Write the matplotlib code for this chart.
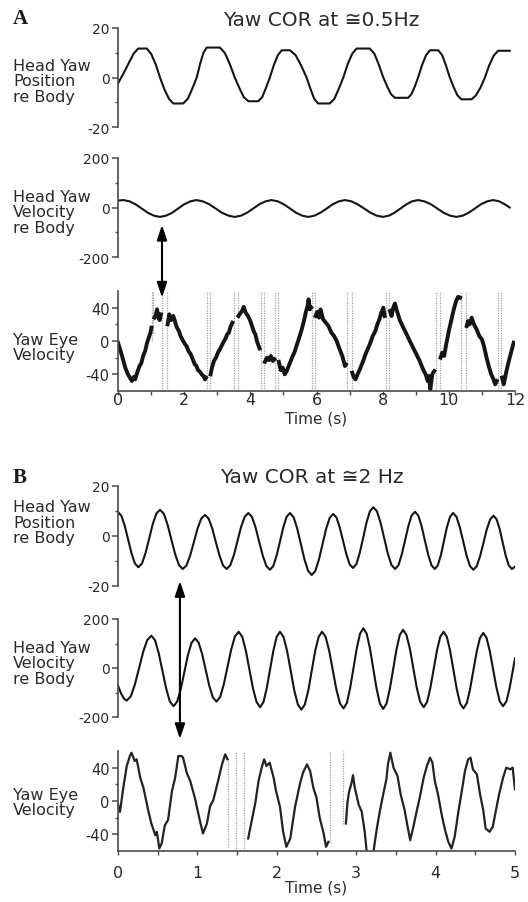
import numpy as np
import matplotlib
matplotlib.use('Agg')
import matplotlib.pyplot as plt
from matplotlib.patches import ConnectionPatch

plt.rcParams['font.family'] = ['DejaVu Sans']
plt.rcParams['axes.unicode_minus'] = False

# ---- panel A (0.5 Hz) ----
a_pos_t = [0.00, 0.20, 0.35, 0.48, 0.61, 0.87, 1.00, 1.14, 1.27, 1.40, 1.54, 1.67,
           1.97, 2.11, 2.24, 2.38, 2.48, 2.58, 2.68, 3.08, 3.23, 3.38, 3.53, 3.67, 3.80, 3.94,
           4.24, 4.36, 4.47, 4.59, 4.71, 4.83, 4.95, 5.20, 5.37, 5.53, 5.70, 5.82, 5.93, 6.05,
           6.40, 6.54, 6.67, 6.81, 6.94, 7.08, 7.21, 7.61, 7.75, 7.88, 8.02, 8.14, 8.25, 8.37,
           8.77, 8.87, 8.97, 9.07, 9.19, 9.31, 9.43, 9.68, 9.80, 9.91, 10.03, 10.15, 10.26, 10.38,
           10.69, 10.82, 10.96, 11.09, 11.22, 11.36, 11.49, 11.84]
a_pos_v = [-2.4, 2.5, 6.5, 9.8, 11.7, 11.7, 9.6, 5.3, 0, -4.7, -8.6, -10.5,
           -10.5, -8.6, -4.7, 0, 5.4, 9.9, 12.1, 12.1, 9.9, 5.4, 0, -4.3, -7.9, -9.6,
           -9.6, -7.9, -4.3, 0, 5.0, 9.0, 11.0, 11.0, 9.0, 5.0, 0, -4.7, -8.6, -10.5,
           -10.5, -8.6, -4.7, 0, 5.3, 9.6, 11.7, 11.7, 9.6, 5.3, 0, -3.7, -6.7, -8.2,
           -8.2, -6.7, -3.7, 0, 5.0, 9.0, 11.0, 11.0, 9.0, 5.0, 0, -4.0, -7.2, -8.8,
           -8.8, -7.2, -4.0, 0, 4.9, 8.9, 10.8, 10.8]

a_vel_t = [0.00, 0.16, 0.345, 0.53, 0.715, 0.90, 1.085, 1.27, 1.45, 1.64, 1.82, 2.00, 2.19, 2.37,
           2.56, 2.76, 2.95, 3.14, 3.34, 3.53, 3.72, 3.90, 4.09, 4.27, 4.46, 4.64,
           4.83, 5.01, 5.20, 5.38, 5.57, 5.75, 5.94, 6.12, 6.31, 6.49, 6.68, 6.86,
           7.05, 7.24, 7.44, 7.63, 7.82, 8.01, 8.19, 8.36, 8.54, 8.72, 8.89, 9.07,
           9.26, 9.46, 9.65, 9.84, 10.04, 10.23, 10.42, 10.60, 10.79, 10.97, 11.16, 11.34,
           11.52, 11.69, 11.84]
a_vel_v = [28, 30, 25, 13, -4, -21, -33, -38, -33, -21, -4, 13, 25, 30,
           25, 13, -4, -21, -33, -38, -33, -21, -4, 13, 25, 30,
           25, 13, -4, -21, -33, -38, -33, -21, -4, 13, 25, 30,
           25, 13, -4, -21, -33, -38, -33, -21, -4, 13, 25, 30,
           25, 13, -4, -21, -33, -38, -33, -21, -4, 13, 25, 30,
           25, 13, 0]

# eye velocity, None = saccade gap
a_eye_t = [0.00, 0.08, 0.15, 0.22, 0.30, 0.36, 0.42, 0.48, 0.52, 0.58, 0.65, 0.70, 0.76, 0.82, 0.88, 0.93, 0.98, 1.01, None,
           1.10, 1.14, 1.18, 1.22, 1.26, 1.30, None,
           1.50, 1.55, 1.60, 1.67, 1.72, 1.77, 1.84, 1.90, 1.97, 2.03, 2.07, 2.13, 2.20, 2.26, 2.32, 2.37, 2.42, 2.48, 2.53, 2.58, 2.63, 2.66, None,
           2.80, 2.84, 2.90, 2.96, 3.02, 3.08, 3.13, 3.18, 3.25, 3.30, 3.35, 3.40, 3.46, None,
           3.64, 3.69, 3.75, 3.80, 3.86, 3.93, 4.00, 4.05, 4.10, 4.15, 4.20, 4.25, 4.28, None,
           4.44, 4.50, 4.56, 4.62, 4.68, 4.73, None,
           4.86, 4.92, 4.98, 5.04, 5.10, 5.18, 5.28, 5.33, 5.38, 5.46, 5.54, 5.62, 5.68, 5.73, 5.76, 5.80, 5.84, None,
           5.97, 6.02, 6.08, 6.12, 6.20, 6.28, 6.36, 6.45, 6.53, 6.61, 6.70, 6.78, 6.86, 6.89, None,
           7.08, 7.13, 7.18, 7.24, 7.31, 7.40, 7.50, 7.61, 7.70, 7.78, 7.84, 7.90, 7.96, 8.02, 8.06, None,
           8.22, 8.27, 8.32, 8.37, 8.44, 8.52, 8.60, 8.70, 8.82, 8.92, 9.02, 9.12, 9.22, 9.30, 9.36, 9.40, 9.44, 9.50, 9.56, None,
           9.75, 9.80, 9.86, 9.92, 10.00, 10.08, 10.15, 10.22, 10.28, 10.34, None,
           10.54, 10.58, 10.63, 10.69, 10.76, 10.84, 10.92, 11.00, 11.06, 11.14, 11.22, 11.28, 11.34, 11.40, 11.45, None,
           11.61, 11.66, 11.72, 11.80, 11.88, 11.96]
a_eye_v = [-2, -12, -22, -32, -40, -44, -48, -43, -46, -38, -30, -27, -18, -12, -2, 4, 10, 16, None,
           28, 31, 38, 28, 25, 32, None,
           20, 32, 25, 30, 24, 17, 12, 5, 0, -4, -6, -12, -16, -22, -28, -30, -35, -37, -40, -42, -46, -44, None,
           -40, -32, -24, -20, -14, -10, -6, -2, 3, 8, 10, 17, 22, None,
           30, 33, 36, 41, 34, 30, 24, 18, 12, 8, 0, -6, -9, None,
           -25, -20, -23, -18, -24, -22, None,
           -25, -35, -32, -40, -36, -28, -18, -14, -8, 2, 12, 24, 35, 42, 50, 38, 40, None,
           30, 35, 28, 38, 26, 22, 18, 10, 6, 0, -10, -18, -30, -28, None,
           -38, -44, -46, -40, -34, -25, -14, -4, 6, 12, 20, 26, 34, 40, 30, None,
           36, 30, 40, 45, 35, 25, 18, 10, 0, -8, -16, -24, -34, -40, -48, -42, -58, -40, -36, None,
           -20, -14, -18, -4, 12, 26, 38, 48, 53, 52, None,
           18, 24, 20, 28, 20, 14, 6, 2, -6, -20, -32, -40, -45, -52, -48, None,
           -44, -52, -40, -26, -14, -2]

a_gap_t = [1.02, 1.07, 1.32, 1.47, 2.68, 2.78, 3.50, 3.62, 4.31, 4.41, 4.76, 4.84,
           5.86, 5.95, 6.91, 7.06, 8.10, 8.20, 9.61, 9.73, 10.38, 10.51, 11.49, 11.59]
a_gap_lo = [0, 10] + [-60] * 22

# ---- panel B (2 Hz) ----
b_pos_t = [0.000, 0.043, 0.085, 0.128, 0.171, 0.213, 0.256,
           0.302, 0.347, 0.393, 0.438, 0.484, 0.529,
           0.577, 0.624, 0.672, 0.720, 0.767, 0.815,
           0.862, 0.909, 0.956, 1.002, 1.049, 1.096,
           1.141, 1.187, 1.232, 1.278, 1.323, 1.369,
           1.414, 1.460, 1.505, 1.550, 1.596, 1.641,
           1.686, 1.732, 1.777, 1.823, 1.868, 1.914,
           1.956, 1.998, 2.040, 2.082, 2.124, 2.166,
           2.212, 2.257, 2.303, 2.349, 2.394, 2.440,
           2.485, 2.530, 2.575, 2.620, 2.665, 2.710,
           2.752, 2.793, 2.835, 2.877, 2.918, 2.960,
           3.003, 3.045, 3.088, 3.130, 3.173, 3.215,
           3.261, 3.307, 3.353, 3.398, 3.444, 3.490,
           3.532, 3.573, 3.615, 3.657, 3.698, 3.740,
           3.782, 3.823, 3.865, 3.907, 3.948, 3.990,
           4.028, 4.067, 4.105, 4.143, 4.182, 4.220,
           4.263, 4.305, 4.348, 4.390, 4.433, 4.475,
           4.518, 4.560, 4.603, 4.645, 4.688, 4.730,
           4.768, 4.807, 4.845, 4.883, 4.922, 4.960, 5.000]
b_pos_v = [9.6, 8.1, 4.1, -1.5, -7.0, -11.0, -12.5,
           -11.0, -6.8, -1.0, 4.8, 9.0, 10.5,
           8.9, 4.6, -1.4, -7.3, -11.6, -13.2,
           -11.8, -7.8, -2.4, 3.0, 7.0, 8.4,
           7.0, 3.0, -2.4, -7.8, -11.8, -13.2,
           -11.7, -7.6, -2.0, 3.6, 7.7, 9.2,
           7.7, 3.5, -2.2, -7.8, -12.0, -13.5,
           -12.0, -7.8, -2.2, 3.5, 7.7, 9.2,
           7.5, 3.0, -3.2, -9.4, -13.9, -15.6,
           -14.0, -9.5, -3.4, 2.7, 7.2, 8.8,
           7.4, 3.4, -2.0, -7.4, -11.4, -12.8,
           -11.2, -6.7, -0.7, 5.4, 9.9, 11.5,
           9.9, 5.3, -0.9, -7.0, -11.6, -13.2,
           -11.7, -7.5, -1.8, 4.0, 8.2, 9.7,
           8.2, 4.0, -1.8, -7.5, -11.7, -13.2,
           -11.7, -7.6, -2.0, 3.6, 7.7, 9.2,
           7.7, 3.5, -2.2, -7.8, -12.0, -13.5,
           -12.1, -8.1, -2.7, 2.7, 6.7, 8.1,
           6.7, 2.8, -2.6, -7.9, -11.8, -13.2, -12.3]

b_vel_t = [0.000, 0.040, 0.080, 0.110,
           0.162, 0.213, 0.265, 0.317, 0.368, 0.420,
           0.467, 0.513, 0.560, 0.607, 0.653, 0.700,
           0.745, 0.790, 0.835, 0.880, 0.925, 0.970,
           1.015, 1.060, 1.105, 1.150, 1.195, 1.240,
           1.287, 1.333, 1.380, 1.427, 1.473, 1.520,
           1.565, 1.610, 1.655, 1.700, 1.745, 1.790,
           1.832, 1.873, 1.915, 1.957, 1.998, 2.040,
           2.085, 2.130, 2.175, 2.220, 2.265, 2.310,
           2.353, 2.397, 2.440, 2.483, 2.527, 2.570,
           2.615, 2.660, 2.705, 2.750, 2.795, 2.840,
           2.882, 2.923, 2.965, 3.007, 3.048, 3.090,
           3.132, 3.173, 3.215, 3.257, 3.298, 3.340,
           3.382, 3.423, 3.465, 3.507, 3.548, 3.590,
           3.633, 3.677, 3.720, 3.763, 3.807, 3.850,
           3.892, 3.933, 3.975, 4.017, 4.058, 4.100,
           4.142, 4.183, 4.225, 4.267, 4.308, 4.350,
           4.392, 4.433, 4.475, 4.517, 4.558, 4.600,
           4.642, 4.683, 4.725, 4.767, 4.808, 4.850,
           4.892, 4.933, 4.975, 5.000]
b_vel_v = [-72, -105, -127, -133,
           -115, -67, -1, 66, 114, 132,
           113, 60, -12, -84, -137, -156,
           -137, -87, -18, 52, 102, 121,
           104, 57, -8, -73, -120, -137,
           -118, -66, 6, 77, 129, 148,
           127, 71, -6, -83, -139, -160,
           -139, -83, -6, 71, 127, 148,
           127, 69, -11, -91, -149, -170,
           -149, -91, -11, 69, 127, 148,
           127, 70, -9, -87, -144, -165,
           -143, -83, -2, 80, 140, 162,
           140, 80, -3, -85, -145, -167,
           -145, -86, -6, 75, 134, 156,
           135, 77, -2, -81, -139, -160,
           -139, -83, -6, 71, 127, 148,
           127, 70, -9, -87, -144, -165,
           -144, -88, -11, 66, 122, 143,
           123, 68, -7, -81, -136, -156,
           -136, -81, -6, 40]

b_eye_t = [0.00, 0.025, 0.067, 0.11, 0.15, 0.17, 0.21, 0.235, 0.28, 0.32, 0.38, 0.42, 0.47, 0.49, 0.52, 0.55,
           0.59, 0.63, 0.68, 0.72, 0.76, 0.80, 0.82, 0.865, 0.91, 0.97, 1.03, 1.07, 1.12, 1.16, 1.20, 1.26,
           1.31, 1.35, 1.38, None,
           1.64, 1.66, 1.73, 1.77, 1.81, 1.84, 1.87, 1.91, 1.96, 1.99, 2.04, 2.08, 2.12, 2.17, 2.23, 2.29,
           2.33, 2.38, 2.42, 2.46, 2.50, 2.54, 2.59, 2.62, 2.65, None,
           2.87, 2.89, 2.91, 2.94, 2.96, 2.98, 3.03, 3.07, 3.11, 3.13, None,
           3.22, 3.26, 3.30, 3.34, 3.38, 3.40, 3.43, 3.47, 3.52, 3.56, 3.61, 3.64, 3.68, 3.72, 3.76, 3.80,
           3.85, 3.89, 3.93, 3.96, 3.99, 4.03, 4.08, 4.12, 4.16, 4.20, 4.24, 4.29, 4.33, 4.37, 4.41, 4.44,
           4.47, 4.52, 4.56, 4.60, 4.63, 4.68, 4.72, 4.76, 4.80, 4.85, 4.89, 4.94, 4.97, 5.00]
b_eye_v = [-4, -13, 16, 42, 54, 58, 48, 50, 28, 16, -11, -27, -41, -37, -57, -51,
           -29, -23, 12, 28, 54, 54, 52, 34, 24, 3, -23, -39, -27, -6, 1, 24,
           44, 56, 50, None,
           -45, -35, -2, 24, 40, 50, 42, 46, 28, 12, -7, -37, -55, -45, -7, 20,
           34, 44, 36, 16, 4, -20, -39, -55, -49, None,
           -27, -2, 11, 21, 31, 17, -4, -13, -39, -59, None,
           -59, -33, -11, 8, 26, 44, 58, 40, 30, 8, -11, -27, -47, -31, -13, 4,
           28, 42, 52, 46, 24, 8, -18, -35, -49, -57, -43, -11, 12, 36, 50, 52,
           38, 32, 8, -11, -33, -37, -31, -11, 8, 28, 40, 38, 40, 14]

b_gap_t = [1.39, 1.49, 1.59, 2.67, 2.83]
b_gap_lo = [-55, -60, -60, -50, -28]
b_gap_hi = [50, 60, 60, 60, 60]

# ---- layout ----
W, H = 528, 903
line_col = '#151515'
axis_col = '#4a4a4a'
text_col = '#2a2a2a'

fig = plt.figure(figsize=(W / 100, H / 100), dpi=100)


def add_ax(top, bottom):
    ax = fig.add_axes([118 / W, 1 - bottom / H, 397 / W, (bottom - top) / H])
    ax.patch.set_alpha(0)
    return ax


def head_style(ax, lim, major, minor, xmax):
    ax.set_xlim(0, xmax)
    ax.set_ylim(-lim, lim)
    for s in ['top', 'right', 'bottom']:
        ax.spines[s].set_visible(False)
    ax.spines['left'].set_color(axis_col)
    ax.spines['left'].set_linewidth(1.2)
    ax.set_xticks([])
    ax.set_yticks(major)
    ax.set_yticks(minor, minor=True)
    ax.tick_params(axis='y', which='major', direction='out', length=4, width=1.1,
                   pad=2, labelsize=10, color=axis_col, labelcolor=text_col)
    ax.tick_params(axis='y', which='minor', direction='out', length=2.5, width=1.0, color=axis_col)


def eye_style(ax, xmax, xmajor, xminor, xpad):
    ax.set_xlim(0, xmax)
    ax.set_ylim(-60, 60)
    for s in ['top', 'right']:
        ax.spines[s].set_visible(False)
    for s in ['left', 'bottom']:
        ax.spines[s].set_color(axis_col)
        ax.spines[s].set_linewidth(1.2)
    ax.set_yticks([-40, 0, 40])
    ax.set_yticks([-20, 20], minor=True)
    ax.set_xticks(xmajor)
    ax.set_xticks(xminor, minor=True)
    ax.tick_params(axis='y', which='major', direction='out', length=4, width=1.1,
                   pad=2, labelsize=10.5, color=axis_col, labelcolor=text_col)
    ax.tick_params(axis='y', which='minor', direction='out', length=2.5, width=1.0, color=axis_col)
    ax.tick_params(axis='x', which='both', direction='out', length=3, width=1.0,
                   pad=xpad, labelsize=11.5, color=axis_col, labelcolor=text_col)


def arr(v):
    return np.array(v, dtype=float)


# panel A
ax1 = add_ax(29, 128)
ax1.plot(a_pos_t, a_pos_v, color=line_col, lw=1.5)
head_style(ax1, 20, [-20, 0, 20], [-10, 10], 12)

ax2 = add_ax(159, 258)
ax2.plot(a_vel_t, a_vel_v, color=line_col, lw=1.5)
head_style(ax2, 200, [-200, 0, 200], [-100, 100], 12)

ax3 = add_ax(292, 392)
ax3.vlines(a_gap_t, a_gap_lo, 60, colors='#a0a0a0', linestyles=(0, (1, 1)), lw=0.9)
ax3.plot(arr(a_eye_t), arr(a_eye_v), color=line_col, lw=2.8, solid_joinstyle='round')
eye_style(ax3, 12, list(range(0, 13, 2)), list(range(1, 12, 2)), -2)
ax3.set_xlabel('Time (s)', fontsize=11, color=text_col, labelpad=2)

# panel B
ax4 = add_ax(487, 587)
ax4.plot(b_pos_t, b_pos_v, color=line_col, lw=1.5)
head_style(ax4, 20, [-20, 0, 20], [-10, 10], 5)

ax5 = add_ax(620, 718)
ax5.plot(b_vel_t, b_vel_v, color=line_col, lw=1.5)
head_style(ax5, 200, [-200, 0, 200], [-100, 100], 5)

ax6 = add_ax(752, 852)
ax6.vlines(b_gap_t, b_gap_lo, b_gap_hi, colors='#a0a0a0', linestyles=(0, (1, 1)), lw=0.9)
ax6.plot(arr(b_eye_t), arr(b_eye_v), color='#222222', lw=1.6)
eye_style(ax6, 5, [0, 1, 2, 3, 4, 5], [0.5, 1.5, 2.5, 3.5, 4.5], 7)
ax6.set_xlabel('Time (s)', fontsize=11, color=text_col, labelpad=0)

# arrows linking head and eye traces
for (axa, pa, axb, pb) in [(ax2, (1.33, -70), ax3, (1.33, 52)),
                           (ax4, (0.78, -18), ax5, (0.78, -290))]:
    con = ConnectionPatch(xyA=pa, coordsA=axa.transData, xyB=pb, coordsB=axb.transData,
                          arrowstyle='<|-|>,head_length=0.9,head_width=0.3', mutation_scale=10,
                          color='black', lw=1.5, shrinkA=0, shrinkB=0)
    fig.add_artist(con)

# row labels
row_labels = [('Head Yaw\nPosition\nre Body', 82), ('Head Yaw\nVelocity\nre Body', 213),
              ('Yaw Eye\nVelocity', 348), ('Head Yaw\nPosition\nre Body', 523),
              ('Head Yaw\nVelocity\nre Body', 664), ('Yaw Eye\nVelocity', 803)]
for txt, yc in row_labels:
    fig.text(13 / W, 1 - yc / H, txt, ha='left', va='center', fontsize=11.5,
             linespacing=1.05, color=text_col)

fig.text(321 / W, 1 - 20 / H, 'Yaw COR at \u22450.5Hz', ha='center', va='center',
         fontsize=14.5, color=text_col)
fig.text(312 / W, 1 - 478 / H, 'Yaw COR at \u22452 Hz', ha='center', va='center',
         fontsize=14.5, color=text_col)
fig.text(13 / W, 1 - 19 / H, 'A', ha='left', va='center', fontsize=15,
         fontweight='bold', family='Liberation Serif', color='#1a1a1a')
fig.text(13 / W, 1 - 478 / H, 'B', ha='left', va='center', fontsize=15,
         fontweight='bold', family='Liberation Serif', color='#1a1a1a')

fig.savefig('out.png', dpi=100)
